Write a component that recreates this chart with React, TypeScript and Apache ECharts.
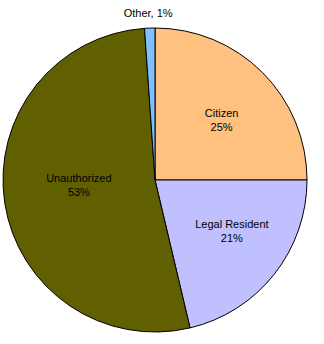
import React, { useEffect, useRef } from "react";
import * as echarts from "echarts";

const categories = ["Citizen", "Legal Resident", "Unauthorized", "Other"];
const shares = [25, 21.3, 52.6, 1.1];
const sliceColors = ["#FFC080", "#C0C0FF", "#606000", "#80C0FF"];
// small label nudges (dx, dy) per category, to match the reference placement
const labelNudge = [
  [0, 7],
  [3, -7],
  [2, -7],
  [-1, 2],
];

const FONT = "Liberation Sans, Arial, sans-serif";
const CENTER = [155, 180];
const R = 152;

export default function App() {
  const ref = useRef<HTMLDivElement>(null);
  useEffect(() => {
    if (!ref.current) return;
    const chart = echarts.init(ref.current, undefined, { renderer: "svg" });
    const pct = (p: any) => Math.round(p.percent);
    const baseLabel = {
      color: "#000",
      fontFamily: FONT,
      fontSize: 11,
      lineHeight: 14,
    };
    const nudge = (p: any) => ({
      dx: labelNudge[p.dataIndex][0],
      dy: labelNudge[p.dataIndex][1],
    });
    const mainData = categories.map((name, i) => ({
      name,
      value: shares[i],
      itemStyle: { color: sliceColors[i] },
      label: { show: name === "Unauthorized" },
    }));
    const ghostInner = categories.map((name, i) => ({
      name,
      value: shares[i],
      label: { show: name === "Citizen" || name === "Legal Resident" },
    }));
    const ghostOuter = categories.map((name, i) => ({
      name,
      value: shares[i],
      label: { show: name === "Other" },
    }));
    const ghostCommon = {
      type: "pie",
      center: CENTER,
      startAngle: 90,
      clockwise: true,
      silent: true,
      avoidLabelOverlap: false,
      itemStyle: { color: "rgba(0,0,0,0)", borderWidth: 0 },
      labelLine: { show: false },
      emphasis: { disabled: true },
      labelLayout: nudge,
    };
    chart.setOption({
      animation: false,
      backgroundColor: "#ffffff",
      series: [
        {
          type: "pie",
          center: CENTER,
          radius: [0, R],
          startAngle: 90,
          clockwise: true,
          silent: true,
          avoidLabelOverlap: false,
          itemStyle: { borderColor: "#000", borderWidth: 1 },
          label: {
            ...baseLabel,
            position: "inside",
            formatter: (p: any) => `${p.name}\n${pct(p)}%`,
          },
          labelLine: { show: false },
          emphasis: { disabled: true },
          labelLayout: nudge,
          data: mainData,
        },
        {
          ...ghostCommon,
          radius: [0, R * 1.2],
          label: {
            ...baseLabel,
            position: "inside",
            formatter: (p: any) => `${p.name}\n${pct(p)}%`,
          },
          data: ghostInner,
        },
        {
          ...ghostCommon,
          radius: [R, R + 28],
          label: {
            ...baseLabel,
            position: "inside",
            formatter: (p: any) => `${p.name}, ${pct(p)}%`,
          },
          data: ghostOuter,
        },
      ],
    });
    return () => chart.dispose();
  }, []);
  return (
    <div
      ref={ref}
      style={{ position: "fixed", left: 0, top: 0, width: 324, height: 344 }}
    />
  );
}
